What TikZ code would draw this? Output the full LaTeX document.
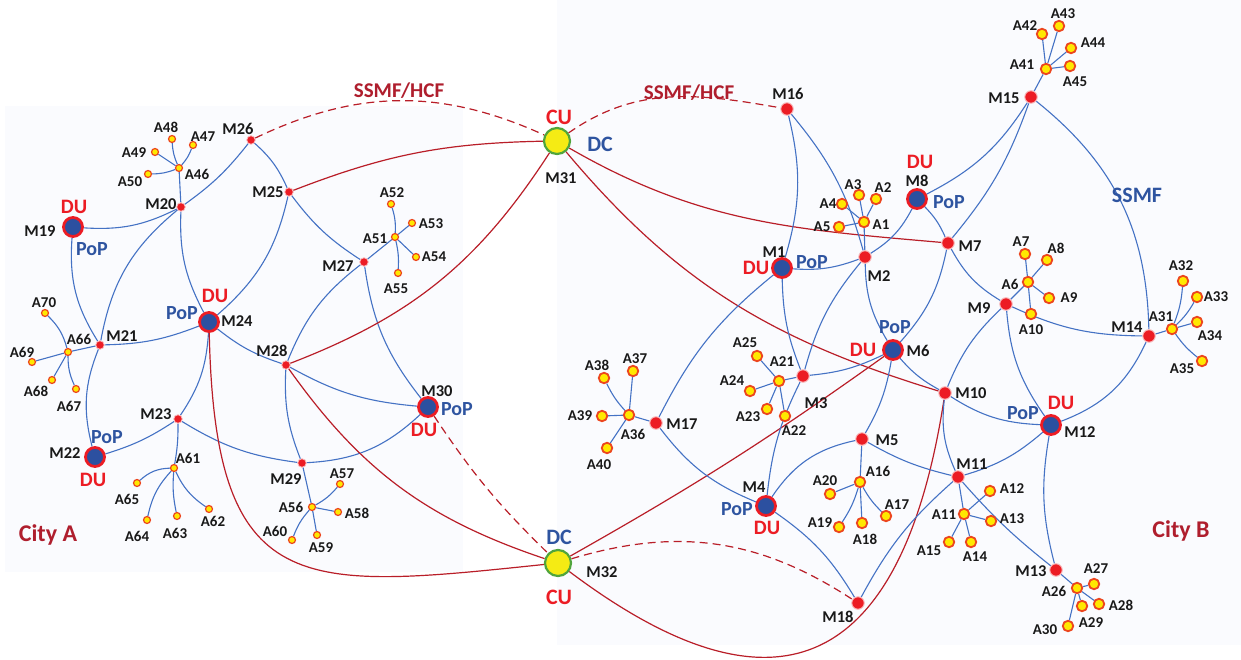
\documentclass[tikz,border=0pt]{standalone}
\usepackage{fontspec}
\setmainfont{Carlito}
\definecolor{lblue}{RGB}{68,114,196}
\definecolor{lred}{RGB}{185,30,40}
\definecolor{nred}{RGB}{236,28,36}
\definecolor{popblue}{RGB}{46,84,160}
\definecolor{darkred}{RGB}{175,30,45}
\definecolor{ayel}{RGB}{255,232,0}
\definecolor{aborder}{RGB}{236,70,30}
\definecolor{cugreen}{RGB}{80,165,60}
\definecolor{cuyel}{RGB}{245,235,20}
\definecolor{bigblue}{RGB}{44,80,160}
\definecolor{panelc}{RGB}{250,251,254}
\definecolor{txt}{RGB}{25,25,25}
\pgfdeclarelayer{panel}
\pgfdeclarelayer{edges}
\pgfsetlayers{panel,edges,main}
\begin{document}
\begin{tikzpicture}[x=1pt,y=1pt,
 sMA/.style={circle,fill=nred,draw=nred!30,line width=0.8pt,inner sep=0pt,minimum size=8.5pt},
 sMB/.style={circle,fill=nred,draw=nred!30,line width=1pt,inner sep=0pt,minimum size=12.5pt},
 sAA/.style={circle,fill=ayel,draw=aborder,line width=1.2pt,inner sep=0pt,minimum size=7pt},
 sAB/.style={circle,fill=ayel,draw=aborder,line width=1.8pt,inner sep=0pt,minimum size=10.5pt},
 sBig/.style={circle,fill=bigblue,draw=nred,line width=2.8pt,inner sep=0pt,minimum size=19pt},
 sCU/.style={circle,fill=cuyel,draw=cugreen,line width=2.2pt,inner sep=0pt,minimum size=26pt},
 sBL/.style={lblue,line width=1.1pt},
 sRD/.style={lred,line width=1.2pt},
 sRDD/.style={lred,line width=1.2pt,dash pattern=on 8pt off 5pt},
 sML/.style={font=\bfseries\fontsize{16.5}{16.5}\selectfont,text=txt,inner sep=0pt},
 sAL/.style={font=\bfseries\fontsize{15}{15}\selectfont,text=txt,inner sep=0pt},
 sDU/.style={font=\bfseries\fontsize{20.5}{20.5}\selectfont,text=nred,inner sep=0pt},
 sPOP/.style={font=\bfseries\fontsize{20}{20}\selectfont,text=popblue,inner sep=0pt},
 sCUL/.style={font=\bfseries\fontsize{22}{22}\selectfont,text=nred,inner sep=0pt},
 sDCL/.style={font=\bfseries\fontsize{22}{22}\selectfont,text=popblue,inner sep=0pt},
 sSSH/.style={font=\bfseries\fontsize{21}{21}\selectfont,text=darkred,inner sep=0pt},
 sSSB/.style={font=\bfseries\fontsize{22}{22}\selectfont,text=popblue,inner sep=0pt},
 sCITY/.style={font=\bfseries\fontsize{24}{24}\selectfont,text=darkred,inner sep=0pt}]
\useasboundingbox (0,0) rectangle (1241,-660);
\begin{pgfonlayer}{panel}
\fill[white] (0,0) rectangle (1241,-660);
\fill[panelc] (5,-106) rectangle (463,-572);
\fill[panelc] (557,0) rectangle (1241,-645);
\end{pgfonlayer}
% ---------- nodes ----------
\foreach \n/\x/\y in {M20/181/207,M21/100/345,M23/178/419,M25/289/192,M26/251/140,M27/364/262,M28/286/365,M29/302/463}
  \node[sMA] (\n) at (\x,-\y) {};
\foreach \n/\x/\y in {M19/73/227,M22/95/457,M24/209/322,M30/428/407,M1/782/268,M4/766/506,M6/893/350,M8/917/199,M12/1051/425}
  \node[sBig] (\n) at (\x,-\y) {};
\node[sCU] (M31) at (557,-141) {};
\node[sCU] (M32) at (558,-563) {};
\foreach \n/\x/\y in {A46/179/168,A47/193/145,A48/172/139,A49/155/152,A50/148/174,A51/395/237,A52/391/204,A53/412/223,A54/416/257,A55/398/273,A56/312/507,A57/340/484,A58/338/512,A59/317/535,A60/292/540,A61/174/468,A62/209/509,A63/177/516,A64/147/520,A65/137/483,A66/68/352,A67/76/389,A68/52/380,A69/32/362,A70/45/313}
  \node[sAA] (\n) at (\x,-\y) {};
\foreach \n/\x/\y in {M2/865/257,M3/803/376,M5/862/439,M7/948/243,M9/1006/304,M10/945/393,M11/958/477,M13/1056/570,M14/1149/336,M15/1031/97,M16/787/109,M17/656/423,M18/858/603}
  \node[sMB] (\n) at (\x,-\y) {};
\foreach \n/\x/\y in {A1/864/222,A2/876/199,A3/859/195,A4/842/204,A5/839/227,A6/1028/282,A7/1025/254,A8/1047/260,A9/1049/298,A10/1031/314,A11/964/514,A12/990/491,A13/991/521,A14/971/542,A15/949/542,A16/860/482,A17/886/516,A18/862/523,A19/839/527,A20/830/494,A21/779/381,A22/785/416,A23/767/409,A24/750/391,A25/757/356,A26/1077/588,A27/1094/584,A28/1099/604,A29/1082/606,A30/1068/626,A31/1172/329,A32/1183/281,A33/1197/297,A34/1197/322,A35/1202/361,A36/629/415,A37/633/371,A38/604/378,A39/602/416,A40/607/448,A41/1046/69,A42/1042/34,A43/1059/26,A44/1071/48,A45/1070/66}
  \node[sAB] (\n) at (\x,-\y) {};
% ---------- edges ----------
\begin{pgfonlayer}{edges}
% City A blue
\draw[sBL] (M19) to[bend right=15] (M20);
\draw[sBL] (M19) to[bend right=18] (M21);
\draw[sBL] (M20) to[bend right=20] (M21);
\draw[sBL] (M20) to[bend right=15] (M24);
\draw[sBL] (M20) to[bend right=8] (M26);
\draw[sBL] (M20) -- (A46);
\draw[sBL] (A46) to[bend right=10] (A47);
\draw[sBL] (A46) to[bend left=10] (A48);
\draw[sBL] (A46) -- (A49);
\draw[sBL] (A46) to[bend left=10] (A50);
\draw[sBL] (M26) to[bend left=12] (M25);
\draw[sBL] (M25) to[bend left=18] (M24);
\draw[sBL] (M25) to[bend right=10] (M27);
\draw[sBL] (M21) to[bend right=10] (M24);
\draw[sBL] (M21) to[bend right=18] (M22);
\draw[sBL] (M21) -- (A66);
\draw[sBL] (A66) to[bend right=15] (A70);
\draw[sBL] (A66) -- (A69);
\draw[sBL] (A66) -- (A68);
\draw[sBL] (A66) to[bend right=12] (A67);
\draw[sBL] (M22) to[bend right=8] (M23);
\draw[sBL] (M24) to[bend left=15] (M23);
\draw[sBL] (M24) to[bend right=10] (M28);
\draw[sBL] (M23) to[bend left=5] (A61);
\draw[sBL] (A61) to[bend right=20] (A65);
\draw[sBL] (A61) to[bend right=15] (A64);
\draw[sBL] (A61) to[bend right=8] (A63);
\draw[sBL] (A61) to[bend right=15] (A62);
\draw[sBL] (M23) to[bend right=12] (M29);
\draw[sBL] (M28) to[bend right=12] (M29);
\draw[sBL] (M28) to[bend right=12] (M30);
\draw[sBL] (M27) to[bend right=15] (M28);
\draw[sBL] (M27) to[bend right=15] (M30);
\draw[sBL] (M29) to[bend right=20] (M30);
\draw[sBL] (M29) -- (A56);
\draw[sBL] (A56) to[bend right=10] (A57);
\draw[sBL] (A56) -- (A58);
\draw[sBL] (A56) -- (A59);
\draw[sBL] (A56) to[bend right=10] (A60);
\draw[sBL] (M27) -- (A51);
\draw[sBL] (A51) to[bend right=10] (A52);
\draw[sBL] (A51) -- (A53);
\draw[sBL] (A51) -- (A54);
\draw[sBL] (A51) to[bend left=8] (A55);
% red links
\draw[sRD] (M25) to[bend left=10] (M31);
\draw[sRDD] (M26) to[bend left=25] (M31);
\draw[sRD] (M28) to[bend right=18] (M31);
\draw[sRD] (M24) .. controls (215,-600) and (300,-590) .. (M32);
\draw[sRD] (M28) to[bend right=18] (M32);
\draw[sRDD] (M30) to[bend right=6] (M32);
\draw[sRDD] (M31) to[out=35,in=170] (M16);
\draw[sRD] (M31) to[out=-30,in=175] (M7);
\draw[sRD] (M31) to[out=-50,in=163] (M10);
\draw[sRD] (M32) to[bend right=3] (M6);
\draw[sRDD] (M32) to[bend left=25] (M18);
\draw[sRD] (M32) .. controls (740,-700) and (895,-715) .. (M10);
% City B blue
\draw[sBL] (M16) to[bend left=15] (M1);
\draw[sBL] (M16) to[bend left=12] (M2);
\draw[sBL] (M1) to[bend right=12] (M2);
\draw[sBL] (M1) to[bend right=10] (M3);
\draw[sBL] (M1) to[bend right=12] (M17);
\draw[sBL] (M2) -- (A1);
\draw[sBL] (A1) -- (A2);
\draw[sBL] (A1) -- (A3);
\draw[sBL] (A1) -- (A4);
\draw[sBL] (A1) -- (A5);
\draw[sBL] (M2) to[bend right=15] (M8);
\draw[sBL] (M2) to[bend right=15] (M6);
\draw[sBL] (M2) to[bend right=12] (M3);
\draw[sBL] (M8) to[bend left=10] (M7);
\draw[sBL] (M8) to[bend right=15] (M15);
\draw[sBL] (M7) to[bend right=10] (M15);
\draw[sBL] (M7) to[bend left=15] (M6);
\draw[sBL] (M7) to[bend right=15] (M9);
\draw[sBL] (M6) to[bend right=10] (M10);
\draw[sBL] (M6) to[bend left=10] (M5);
\draw[sBL] (M6) to[bend left=10] (M3);
\draw[sBL] (M3) to[bend right=10] (M4);
\draw[sBL] (M3) -- (A21);
\draw[sBL] (A21) -- (A22);
\draw[sBL] (A21) -- (A23);
\draw[sBL] (A21) -- (A24);
\draw[sBL] (A21) -- (A25);
\draw[sBL] (M4) to[bend left=22] (M5);
\draw[sBL] (M4) to[bend left=15] (M17);
\draw[sBL] (M4) to[bend left=12] (M18);
\draw[sBL] (M5) -- (A16);
\draw[sBL] (A16) -- (A20);
\draw[sBL] (A16) to[bend left=8] (A19);
\draw[sBL] (A16) -- (A18);
\draw[sBL] (A16) to[bend right=8] (A17);
\draw[sBL] (M5) to[bend right=8] (M11);
\draw[sBL] (M10) to[bend right=15] (M11);
\draw[sBL] (M10) to[bend right=15] (M12);
\draw[sBL] (M10) to[bend left=12] (M9);
\draw[sBL] (M9) to[bend right=15] (M12);
\draw[sBL] (M9) to[bend right=12] (M14);
\draw[sBL] (M9) -- (A6);
\draw[sBL] (A6) -- (A7);
\draw[sBL] (A6) -- (A8);
\draw[sBL] (A6) -- (A9);
\draw[sBL] (A6) -- (A10);
\draw[sBL] (M12) to[bend right=22] (M14);
\draw[sBL] (M12) to[bend left=12] (M11);
\draw[sBL] (M12) to[bend right=12] (M13);
\draw[sBL] (M11) to[bend right=5] (M13);
\draw[sBL] (M11) -- (A11);
\draw[sBL] (A11) -- (A12);
\draw[sBL] (A11) -- (A13);
\draw[sBL] (A11) -- (A14);
\draw[sBL] (A11) -- (A15);
\draw[sBL] (M11) to[bend right=10] (M18);
\draw[sBL] (M13) -- (A26);
\draw[sBL] (A26) -- (A27);
\draw[sBL] (A26) -- (A28);
\draw[sBL] (A26) -- (A29);
\draw[sBL] (A26) -- (A30);
\draw[sBL] (M15) to[bend left=25] (M14);
\draw[sBL] (M14) -- (A31);
\draw[sBL] (A31) to[bend right=8] (A32);
\draw[sBL] (A31) to[bend right=8] (A33);
\draw[sBL] (A31) -- (A34);
\draw[sBL] (A31) to[bend right=8] (A35);
\draw[sBL] (M15) -- (A41);
\draw[sBL] (A41) -- (A42);
\draw[sBL] (A41) -- (A43);
\draw[sBL] (A41) -- (A44);
\draw[sBL] (A41) -- (A45);
\draw[sBL] (M17) -- (A36);
\draw[sBL] (A36) -- (A37);
\draw[sBL] (A36) to[bend left=8] (A38);
\draw[sBL] (A36) -- (A39);
\draw[sBL] (A36) -- (A40);
\end{pgfonlayer}
% ---------- labels ----------
\foreach \n/\x/\y in {M26/238/129,M20/161/204,M19/40/231,M25/268/192,M21/122/336,M24/237/321,M28/272/351,M23/156/414,M22/65/453,M29/286/479,M30/437/391,M32/602/572,M27/338/266,M31/561/178,M16/788/94,M8/917/181,M7/970/246,M1/774/252,M2/879/276,M9/979/308,M14/1127/327,M15/1004/98,M6/918/351,M10/971/393,M12/1080/432,M5/887/440,M11/972/464,M13/1031/571,M3/816/403,M17/682/424,M4/754/487,M18/838/617}
  \node[sML] (l\n) at (\x,-\y) {\n};
\foreach \n/\x/\y in {A48/166/127,A47/203/137,A49/134/153,A46/197/174,A50/130/182,A70/44/303,A66/79/339,A69/22/352,A68/36/391,A67/69/406,A61/188/458,A65/127/499,A64/137/536,A63/175/533,A62/213/521,A56/291/507,A57/342/474,A58/357/513,A59/321/548,A60/275/531,A52/392/193,A53/431/224,A51/375/239,A54/434/257,A55/396/289,A3/853/185,A2/883/188,A4/828/204,A5/822/227,A1/881/225,A7/1021/242,A8/1056/248,A6/1010/284,A9/1069/298,A10/1031/330,A31/1161/317,A32/1181/266,A33/1216/297,A34/1210/336,A35/1182/369,A42/1025/26,A43/1063/14,A44/1093/43,A41/1022/65,A45/1075/82,A16/878/471,A17/897/505,A12/1012/489,A11/944/515,A13/1012/519,A15/929/551,A14/975/557,A27/1096/569,A26/1054/591,A28/1121/605,A29/1091/623,A30/1045/630,A25/745/343,A38/597/365,A37/635/359,A21/782/362,A24/732/381,A23/748/417,A22/794/431,A39/580/416,A36/633/434,A40/599/465,A20/825/481,A19/820/523,A18/865/539}
  \node[sAL] (l\n) at (\x,-\y) {\n};
\foreach \n/\x/\y in {M19/74/207,M24/215/296,M22/93/480,M30/424/430,M8/920/162,M1/756/268,M6/863/350,M12/1061/403,M4/767/528}
  \node[sDU] (du\n) at (\x,-\y) {DU};
\foreach \n/\x/\y in {M19/92/249,M24/182/313,M22/107/437,M30/457/409,M8/949/202,M1/812/262,M6/895/327,M12/1023/413,M4/737/509}
  \node[sPOP] (pop\n) at (\x,-\y) {PoP};
\node[sCUL] (cuM31) at (559,-117) {CU};
\node[sDCL] (dcM31) at (600,-144) {DC};
\node[sDCL] (dcM32) at (559,-537) {DC};
\node[sCUL] (cuM32) at (559,-597) {CU};
\node[sSSH] (ssA) at (399,-91) {SSMF/HCF};
\node[sSSH] (ssB) at (689,-93) {SSMF/HCF};
\node[sSSB] (ssmf) at (1137,-195) {SSMF};
\node[sCITY] (cityA) at (48,-535) {City A};
\node[sCITY] (cityB) at (1181,-531) {City B};
\end{tikzpicture}
\end{document}
